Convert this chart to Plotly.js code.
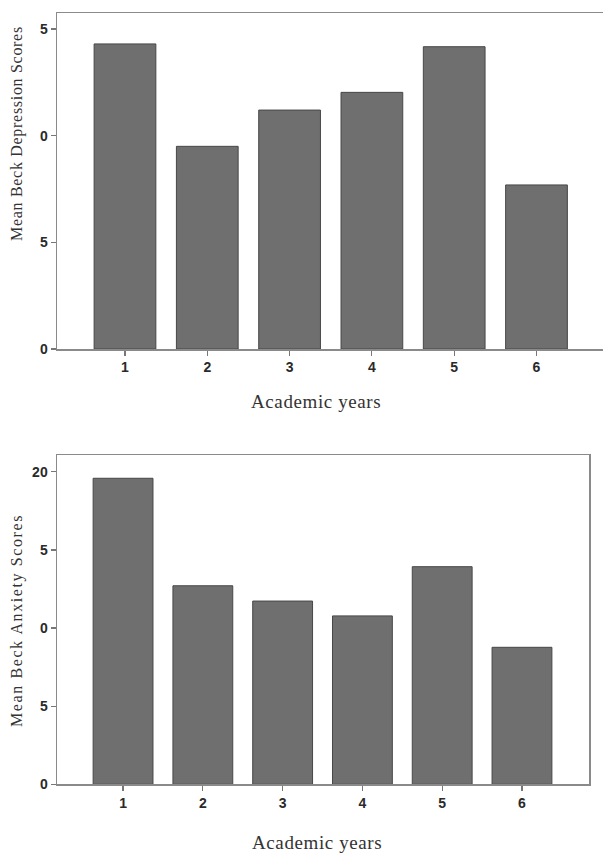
<!DOCTYPE html>
<html>
<head>
<meta charset="utf-8">
<script src="https://cdn.plot.ly/plotly-3.0.1.min.js"></script>
<style>html,body{margin:0;padding:0;background:#fff;overflow:hidden}</style>
</head>
<body>
<div id="chart" style="width:603px;height:856px"></div>
<script>
// Data
const years = [1, 2, 3, 4, 5, 6];
const yearLabels = ["1", "2", "3", "4", "5", "6"];
const depressionScores = [14.3, 9.5, 11.2, 12.03, 14.17, 7.69];
const anxietyScores = [19.59, 12.71, 11.73, 10.78, 13.93, 8.77];
const depTickVals = [0, 5, 10, 15];
const depTickText = ["0", "5", "0", "5"];
const anxTickVals = [0, 5, 10, 15, 20];
const anxTickText = ["0", "5", "0", "5", "20"];
const depTitle = "Mean Beck Depression Scores";
const anxTitle = "Mean Beck Anxiety Scores";
const xTitle = "Academic years";

const W = 603, H = 856;
const px = v => v / W;
const py = v => 1 - v / H;

const serif = "Liberation Serif, Times New Roman, serif";
const barStyle = {color: "#6f6f6f", line: {color: "#474747", width: 1}};
const tickFont = {family: "Liberation Sans, Arial, sans-serif", size: 14, color: "#2a2a2a", weight: "bold"};
const axisCommon = {
  showline: true, linecolor: "#8a8a8a", linewidth: 1.5,
  ticks: "outside", ticklen: 5, tickcolor: "#777", tickwidth: 1.2,
  showgrid: false, zeroline: false, tickfont: tickFont, fixedrange: true
};

const data = [
  {type: "bar", x: years, y: depressionScores, width: 0.75, marker: barStyle,
   xaxis: "x", yaxis: "y", hoverinfo: "skip"},
  {type: "bar", x: years, y: anxietyScores, width: 0.75, marker: barStyle,
   xaxis: "x2", yaxis: "y2", hoverinfo: "skip"}
];

const spaced = (t, s) => '<span style="letter-spacing:' + s + 'px">' + t + '</span>';

const layout = {
  width: W, height: H,
  margin: {l: 0, r: 0, t: 0, b: 0},
  paper_bgcolor: "#fff", plot_bgcolor: "#fff",
  showlegend: false,
  xaxis: Object.assign({}, axisCommon, {
    domain: [px(57), 1], range: [0.174, 6.808], anchor: "y",
    tickvals: years, ticktext: yearLabels, mirror: true
  }),
  yaxis: Object.assign({}, axisCommon, {
    domain: [py(349), py(13)], range: [0, 15.75], anchor: "x",
    tickvals: depTickVals, ticktext: depTickText, mirror: false
  }),
  xaxis2: Object.assign({}, axisCommon, {
    domain: [px(57), px(589)], range: [0.172, 6.84], anchor: "y2",
    tickvals: years, ticktext: yearLabels, mirror: true
  }),
  yaxis2: Object.assign({}, axisCommon, {
    domain: [py(784.3), py(455)], range: [0, 21.08], anchor: "x2",
    tickvals: anxTickVals, ticktext: anxTickText, mirror: true
  }),
  annotations: [
    {text: spaced(depTitle, 0.7), xref: "paper", yref: "paper", x: px(17), y: py(134),
     textangle: -90, showarrow: false, xanchor: "center", yanchor: "middle",
     font: {family: serif, size: 16, color: "#333"}},
    {text: spaced(anxTitle, 1.6), xref: "paper", yref: "paper", x: px(17), y: py(621),
     textangle: -90, showarrow: false, xanchor: "center", yanchor: "middle",
     font: {family: serif, size: 16, color: "#333"}},
    {text: spaced(xTitle, 0.6), xref: "paper", yref: "paper", x: px(316), y: py(401),
     showarrow: false, xanchor: "center", yanchor: "middle",
     font: {family: serif, size: 19, color: "#333"}},
    {text: spaced(xTitle, 0.6), xref: "paper", yref: "paper", x: px(317), y: py(842),
     showarrow: false, xanchor: "center", yanchor: "middle",
     font: {family: serif, size: 19, color: "#333"}}
  ]
};

Plotly.newPlot("chart", data, layout, {staticPlot: true, displayModeBar: false});
</script>
</body>
</html>
